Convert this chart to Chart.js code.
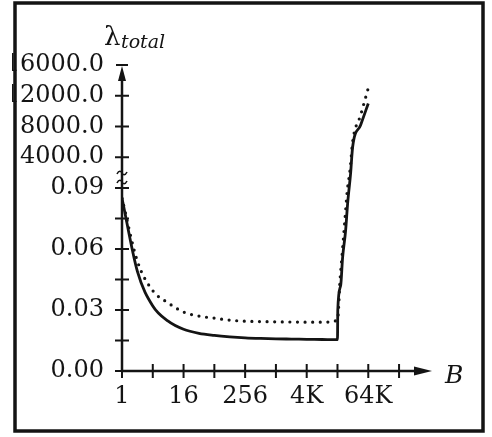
<!DOCTYPE html>
<html>
<head>
<meta charset="utf-8">
<script src="https://cdn.jsdelivr.net/npm/chart.js@4/dist/chart.umd.min.js"></script>
<style>
  html, body { margin: 0; padding: 0; background: #fff; }
  canvas { display: block; }
</style>
</head>
<body>
<canvas id="chart" width="492" height="437"></canvas>
<script>
// block size B (x) and lambda_total (y)
const bSolid = [1, 2, 4, 8, 16, 32, 64, 128, 256, 512, 1024, 2048, 4096, 8192, 16384,
  16600, 18900, 20600, 23600, 25900, 29600, 32400, 46500, 65536];
const lamSolid = [0.085, 0.049, 0.032, 0.0245, 0.0205, 0.0185, 0.0175, 0.0168, 0.0163, 0.016,
  0.0158, 0.0157, 0.0156, 0.0155, 0.0154,
  0.030, 0.042, 0.0556, 0.069, 0.0826, 1950, 5330, 8200, 11000];

const bDotted = [1, 2, 4, 8, 16, 32, 64, 128, 256, 512, 1024, 2048, 4096, 8192, 16384,
  18400, 20600, 23000, 25300, 29000, 32400, 46500, 65536];
const lamDotted = [0.085, 0.054, 0.0395, 0.0335, 0.029, 0.027, 0.026, 0.025, 0.0245, 0.0243,
  0.0242, 0.0241, 0.024, 0.024, 0.025,
  0.045, 0.060, 0.075, 0.088, 2500, 6000, 9500, 13000];

const xTickValues = [1, 4, 16, 64, 256, 1024, 4096, 16384, 65536, 262144];
const xTickLabels = ['1', '', '16', '', '256', '', '4K', '', '64K', ''];

const yTickValues = [0, 0.015, 0.03, 0.045, 0.06, 0.075, 0.09, 4000, 8000, 12000, 16000];
const yTickLabels = ['0.00', '', '0.03', '', '0.06', '', '0.09', '4000.0', '8000.0', '12000.0', '16000.0'];

const ink = '#141414';
const BREAK_AT = 0.09;     // top of the lower (small) part of the axis
const UPPER_MAX = 16000;   // top of the upper part
const LOW_SHARE = 183 / 306; // share of axis height used by the lower part

// linear axis with a break: 0..0.09 below, 0..16000 above
class BrokenScale extends Chart.LinearScale {
  static id = 'broken';
  static defaults = Chart.LinearScale.defaults;
  getPixelForValue(value) {
    if (value === null || value === undefined) return NaN;
    const d = value <= BREAK_AT
      ? (value / BREAK_AT) * LOW_SHARE
      : LOW_SHARE + (value / UPPER_MAX) * (1 - LOW_SHARE);
    return this.getPixelForDecimal(d);
  }
  getValueForPixel(pixel) {
    const d = this.getDecimalForPixel(pixel);
    return d <= LOW_SHARE ? d / LOW_SHARE * BREAK_AT : (d - LOW_SHARE) / (1 - LOW_SHARE) * UPPER_MAX;
  }
}
Chart.register(BrokenScale);

Chart.defaults.font.family = 'DejaVu Serif';
Chart.defaults.color = ink;

function tilde(ctx, cx, cy) {
  ctx.beginPath();
  ctx.moveTo(cx - 5, cy + 1);
  ctx.bezierCurveTo(cx - 3, cy - 3, cx - 1, cy - 2, cx, cy);
  ctx.bezierCurveTo(cx + 1, cy + 2, cx + 3, cy + 3, cx + 5, cy - 1);
  ctx.stroke();
}

const decor = {
  id: 'decor',
  afterDraw(chart) {
    const { ctx, chartArea: a, scales: { x, y } } = chart;
    ctx.save();
    ctx.strokeStyle = ink;
    ctx.fillStyle = ink;

    // axis lines
    ctx.lineWidth = 2.5;
    ctx.beginPath();
    ctx.moveTo(a.left, a.bottom);
    ctx.lineTo(a.left, a.top + 10);
    ctx.moveTo(a.left, a.bottom);
    ctx.lineTo(a.right - 12, a.bottom);
    ctx.stroke();

    // arrow heads
    ctx.beginPath();
    ctx.moveTo(a.left, a.top + 1);
    ctx.lineTo(a.left - 4, a.top + 16);
    ctx.lineTo(a.left + 4, a.top + 16);
    ctx.closePath();
    ctx.fill();
    ctx.beginPath();
    ctx.moveTo(a.right, a.bottom);
    ctx.lineTo(a.right - 18, a.bottom - 4.5);
    ctx.lineTo(a.right - 18, a.bottom + 4.5);
    ctx.closePath();
    ctx.fill();

    // tick marks crossing the axes
    ctx.lineWidth = 2;
    ctx.beginPath();
    y.ticks.forEach((t, i) => {
      const py = y.getPixelForTick(i);
      const half = t.value === UPPER_MAX ? 6 : 7;
      ctx.moveTo(a.left - half, py);
      ctx.lineTo(a.left + half, py);
    });
    x.ticks.forEach((t, i) => {
      const px = x.getPixelForTick(i);
      ctx.moveTo(px, a.bottom - 7);
      ctx.lineTo(px, a.bottom + 7);
    });
    ctx.stroke();

    // axis break marks
    const yb = y.getPixelForValue(BREAK_AT);
    ctx.lineWidth = 1.6;
    tilde(ctx, a.left, yb - 15);
    tilde(ctx, a.left, yb - 6);

    // axis titles
    ctx.textBaseline = 'alphabetic';
    ctx.textAlign = 'left';
    ctx.font = '26px "DejaVu Serif"';
    ctx.fillText('λ', 104, 45);
    ctx.font = 'italic 19px "DejaVu Serif"';
    ctx.fillText('total', 121, 48);
    ctx.font = 'italic 25px "DejaVu Serif"';
    ctx.fillText('B', 445, 383);

    // frame
    ctx.lineWidth = 3.5;
    ctx.strokeRect(15, 3, 468, 428);
    ctx.restore();
  }
};

new Chart(document.getElementById('chart'), {
  type: 'line',
  data: {
    datasets: [
      {
        label: 'solid',
        data: bSolid.map((b, i) => ({ x: b, y: lamSolid[i] })),
        borderColor: ink,
        borderWidth: 2.8,
        pointRadius: 0,
        cubicInterpolationMode: 'monotone',
        fill: false
      },
      {
        label: 'dotted',
        data: bDotted.map((b, i) => ({ x: b, y: lamDotted[i] })),
        borderColor: ink,
        borderWidth: 3.2,
        borderDash: [0, 7.6],
        borderCapStyle: 'round',
        pointRadius: 0,
        cubicInterpolationMode: 'monotone',
        fill: false
      }
    ]
  },
  options: {
    responsive: false,
    devicePixelRatio: 1,
    animation: false,
    layout: { padding: { left: 12, top: 65, right: 60, bottom: 16 } },
    plugins: { legend: { display: false }, tooltip: { enabled: false } },
    scales: {
      x: {
        type: 'logarithmic',
        min: 1,
        max: Math.pow(4, 10.07),
        bounds: 'data',
        grid: { display: false, drawTicks: false },
        border: { display: false },
        afterBuildTicks: s => { s.ticks = xTickValues.map(v => ({ value: v })); },
        afterFit: s => { s.height = 50; },
        ticks: {
          autoSkip: false,
          maxRotation: 0,
          padding: 11,
          font: { size: 24 },
          color: ink,
          callback: v => xTickLabels[xTickValues.indexOf(v)] ?? ''
        }
      },
      y: {
        type: 'broken',
        min: 0,
        max: UPPER_MAX,
        bounds: 'data',
        grid: { display: false, drawTicks: false },
        border: { display: false },
        afterBuildTicks: s => { s.ticks = yTickValues.map(v => ({ value: v })); },
        afterFit: s => { s.width = 110; },
        ticks: {
          autoSkip: false,
          padding: 18,
          font: { size: 24 },
          color: ink,
          callback: v => yTickLabels[yTickValues.indexOf(v)] ?? ''
        }
      }
    }
  },
  plugins: [decor]
});
</script>
</body>
</html>
